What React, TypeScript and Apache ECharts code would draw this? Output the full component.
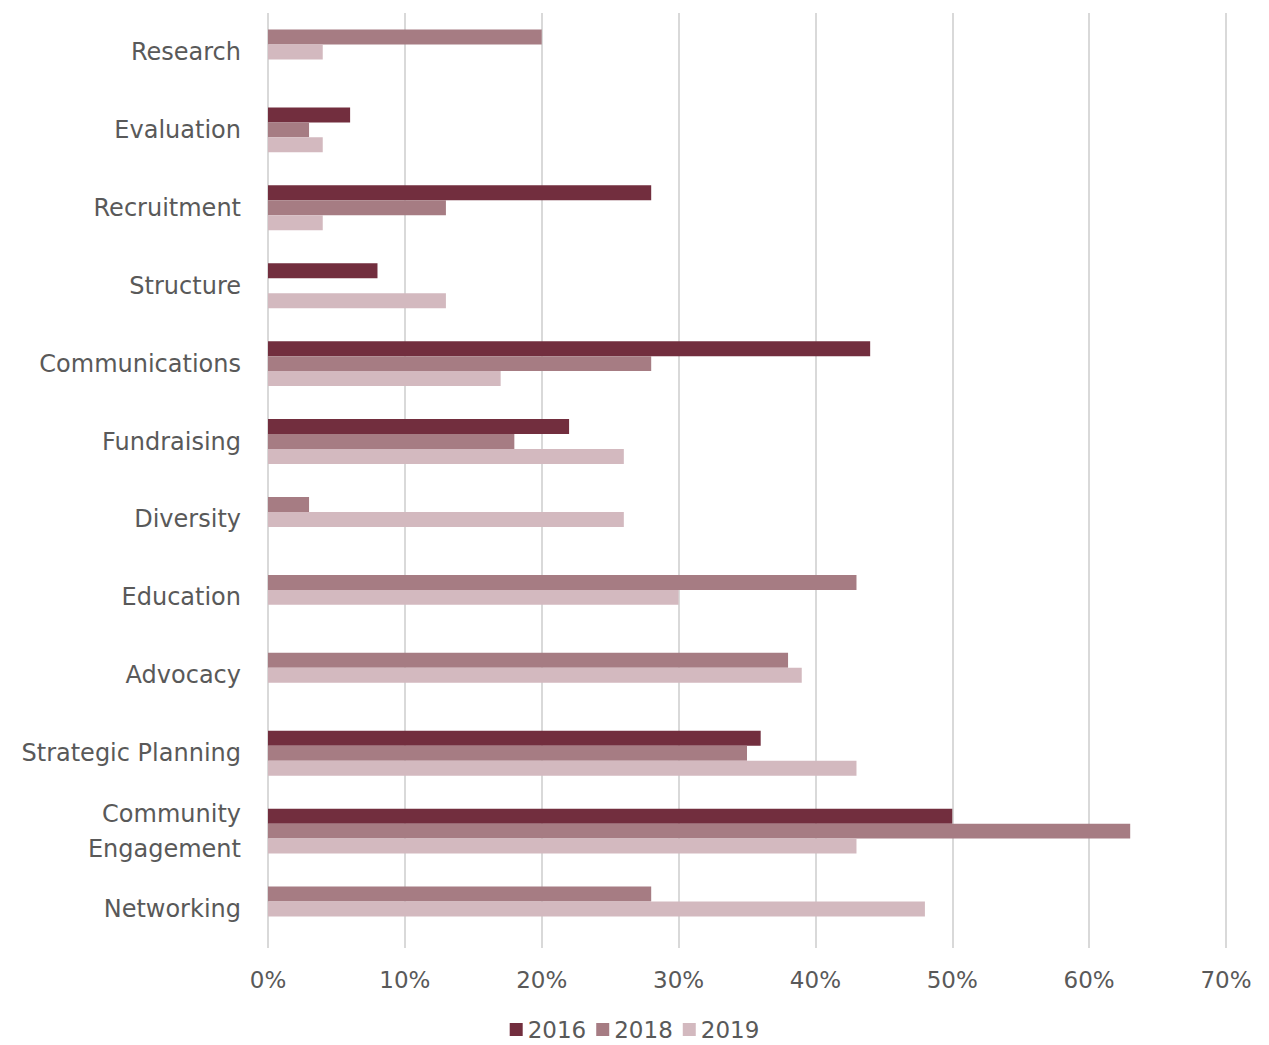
import React, { useEffect, useRef } from "react";
import * as echarts from "echarts";

const categories = [
  "Research",
  "Evaluation",
  "Recruitment",
  "Structure",
  "Communications",
  "Fundraising",
  "Diversity",
  "Education",
  "Advocacy",
  "Strategic Planning",
  "Community\nEngagement",
  "Networking",
];

const seriesNames = ["2016", "2018", "2019"];
const values2016: (number | null)[] = [null, 6, 28, 8, 44, 22, null, null, null, 36, 50, null];
const values2018: (number | null)[] = [20, 3, 13, 0, 28, 18, 3, 43, 38, 35, 63, 28];
const values2019: (number | null)[] = [4, 4, 4, 13, 17, 26, 26, 30, 39, 43, 43, 48];
const colors = ["#722E3E", "#A67C83", "#D3B9BF"];
const xTicks = { min: 0, max: 70, interval: 10 };

const allValues = [values2016, values2018, values2019];

export default function App() {
  const ref = useRef<HTMLDivElement>(null);
  useEffect(() => {
    if (!ref.current) return;
    const chart = echarts.init(ref.current, undefined, { renderer: "svg" });
    const font = "DejaVu Sans";
    const textColor = "#595959";

    // slot = how many series before this one have a value in this category
    const makeData = (si: number) => {
      const out: number[][] = [];
      categories.forEach((_, ci) => {
        const v = allValues[si][ci];
        if (v === null) return;
        let slot = 0;
        for (let k = 0; k < si; k++) if (allValues[k][ci] !== null) slot++;
        out.push([ci, v, slot]);
      });
      return out;
    };

    const series = seriesNames.map((name, si) => ({
      type: "custom",
      name,
      itemStyle: { color: colors[si] },
      encode: { x: 1, y: 0 },
      data: makeData(si),
      renderItem: (params: any, api: any) => {
        const ci = api.value(0);
        const v = api.value(1);
        const slot = api.value(2);
        const start = api.coord([0, ci]);
        const end = api.coord([v, ci]);
        const band = api.size([0, 1])[1];
        const barH = (band * 45) / 78 / 3;
        const top = start[1] - barH * 1.5 + slot * barH;
        return {
          type: "rect",
          shape: { x: start[0], y: top, width: end[0] - start[0], height: barH },
          style: { fill: colors[si] },
        };
      },
    }));

    chart.setOption({
      animation: false,
      backgroundColor: "#ffffff",
      grid: { left: 268, right: 43, top: 13, bottom: 97, containLabel: false },
      xAxis: {
        type: "value",
        min: xTicks.min,
        max: xTicks.max,
        interval: xTicks.interval,
        axisLine: { show: false },
        axisTick: { show: false },
        splitLine: { show: true, lineStyle: { color: "#D9D9D9", width: 2 } },
        axisLabel: {
          formatter: "{value}%",
          color: textColor,
          fontFamily: font,
          fontSize: 23,
          margin: 20,
        },
      },
      yAxis: {
        type: "category",
        inverse: true,
        data: categories,
        axisLine: { show: false },
        axisTick: { show: false },
        splitLine: { show: false },
        axisLabel: {
          color: textColor,
          fontFamily: font,
          fontSize: 24,
          margin: 27,
          lineHeight: 35,
          align: "right",
        },
      },
      legend: {
        data: seriesNames,
        left: "center",
        top: 1018,
        padding: 0,
        icon: "rect",
        itemWidth: 13,
        itemHeight: 13,
        itemGap: 10,
        textStyle: { color: textColor, fontFamily: font, fontSize: 23, lineHeight: 22 },
      },
      series,
    } as any);
    return () => chart.dispose();
  }, []);
  return (
    <div
      ref={ref}
      style={{ position: "fixed", left: 0, top: 0, width: 1269, height: 1045 }}
    />
  );
}
